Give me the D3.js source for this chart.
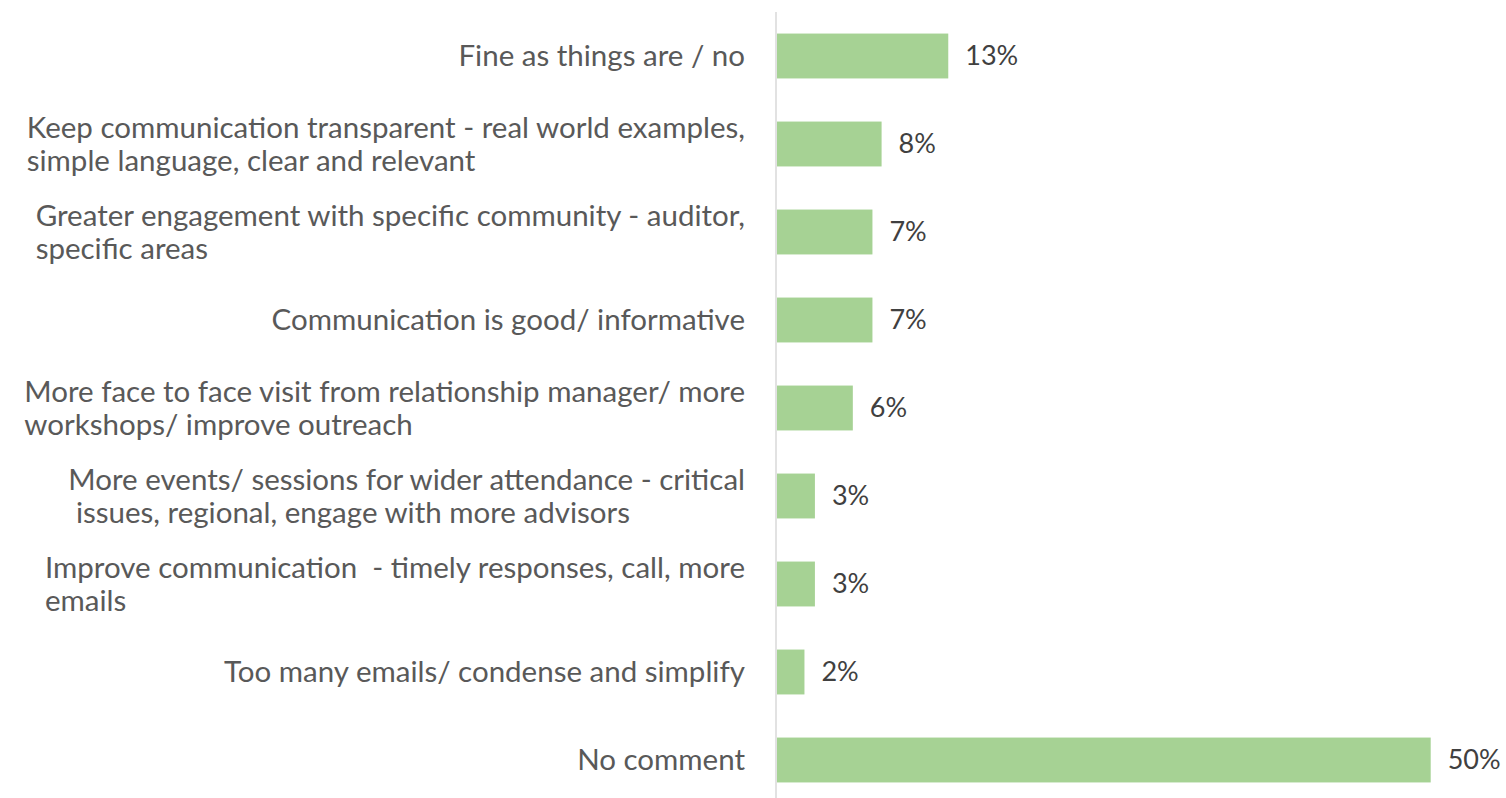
<!DOCTYPE html>
<html>
<head>
<meta charset="utf-8">
<script src="https://cdn.jsdelivr.net/npm/d3@7"></script>
<style>
  body { margin: 0; background: #fff; }
  svg text { font-family: Lato, "Open Sans", sans-serif; white-space: pre; }
</style>
</head>
<body>
<div id="chart"></div>
<script>
// category labels, already split into lines the way the original wraps them
var categories = [
    ["Fine as things are / no"],
    ["Keep communication transparent - real world examples,", "simple language, clear and relevant"],
    ["Greater engagement with specific community - auditor,", "specific areas"],
    ["Communication is good/ informative"],
    ["More face to face visit from relationship manager/ more", "workshops/ improve outreach"],
    ["More events/ sessions for wider attendance - critical", " issues, regional, engage with more advisors"],
    ["Improve communication  - timely responses, call, more", "emails"],
    ["Too many emails/ condense and simplify"],
    ["No comment"]
];
var values = [13.1, 8.0, 7.3, 7.3, 5.8, 2.9, 2.9, 2.1, 50];
var valueLabels = ["13%", "8%", "7%", "7%", "6%", "3%", "3%", "2%", "50%"];

var width = 1506, height = 798;

var svg = d3.select("#chart").append("svg")
    .attr("width", width)
    .attr("height", height);

var x = d3.scaleLinear()
    .domain([0, 50])
    .range([777, 1430.7]);

var y = d3.scaleBand()
    .domain(d3.range(categories.length))
    .range([12, 804])
    .paddingInner(0.49)
    .paddingOuter(0.245);

// bars
svg.selectAll("rect.bar")
    .data(values)
    .enter()
    .append("rect")
    .attr("class", "bar")
    .attr("x", x(0))
    .attr("y", function(d, i) { return y(i); })
    .attr("width", function(d) { return x(d) - x(0); })
    .attr("height", y.bandwidth())
    .attr("fill", "#a6d294");

// vertical category axis line
svg.append("line")
    .attr("x1", 776).attr("x2", 776)
    .attr("y1", 12).attr("y2", height)
    .attr("stroke", "#d9d9d9")
    .attr("stroke-width", 1.5);

// value labels
svg.selectAll("text.val")
    .data(values)
    .enter()
    .append("text")
    .attr("class", "val")
    .attr("x", function(d) { return x(d) + 17; })
    .attr("y", function(d, i) { return y(i) + y.bandwidth() / 2; })
    .attr("dy", "0.35em")
    .attr("font-size", 27)
    .attr("fill", "#404040")
    .text(function(d, i) { return valueLabels[i]; });

// category labels: block right-aligned to 745, lines left-aligned inside it
var lineH = 33;
var labels = svg.selectAll("g.cat")
    .data(categories)
    .enter()
    .append("g")
    .attr("class", "cat");

labels.each(function(lines, i) {
    var g = d3.select(this);
    var cy = y(i) + y.bandwidth() / 2;
    var top = cy - (lines.length - 1) * lineH / 2;
    var texts = g.selectAll("text")
        .data(lines)
        .enter()
        .append("text")
        .attr("y", function(d, j) { return top + j * lineH; })
        .attr("dy", "0.35em")
        .attr("font-size", 29.5)
        .attr("fill", "#595959")
        .text(function(d) { return d; });
    var maxW = 0;
    texts.each(function() { maxW = Math.max(maxW, this.getComputedTextLength()); });
    texts.attr("x", 745 - maxW);
});
</script>
</body>
</html>
